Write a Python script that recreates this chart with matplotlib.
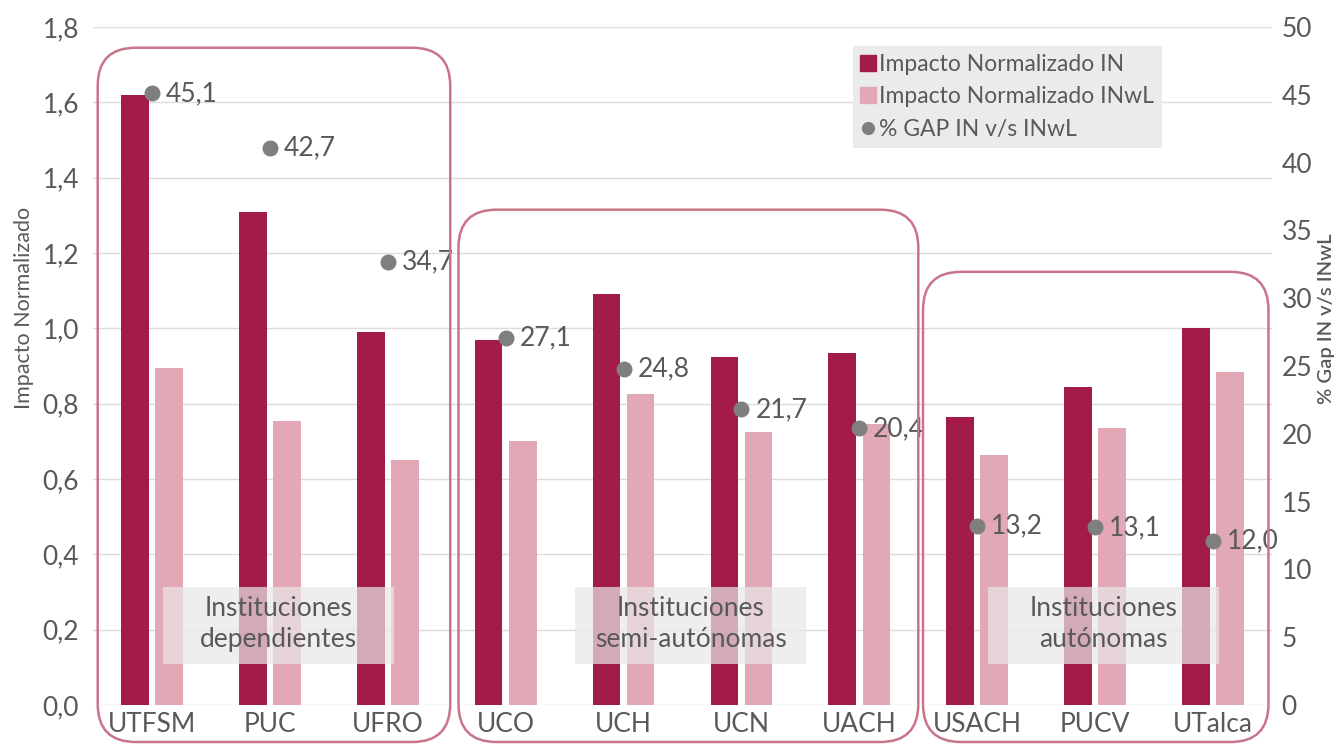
import matplotlib
matplotlib.use("Agg")
import matplotlib.pyplot as plt
from matplotlib.patches import FancyBboxPatch, Rectangle
from matplotlib.lines import Line2D
from matplotlib.transforms import IdentityTransform
import numpy as np

# ---- data ----
categories = ["UTFSM", "PUC", "UFRO", "UCO", "UCH", "UCN", "UACH", "USACH", "PUCV", "UTalca"]
impacto_in = [1.62, 1.31, 0.99, 0.97, 1.09, 0.925, 0.935, 0.765, 0.845, 1.00]
impacto_inwl = [0.895, 0.755, 0.65, 0.70, 0.825, 0.725, 0.745, 0.665, 0.735, 0.885]
# dot positions as drawn in the picture (right axis, %)
gap_pct = [45.1, 41.1, 32.7, 27.1, 24.8, 21.8, 20.4, 13.2, 13.1, 12.1]
gap_labels = ["45,1", "42,7", "34,7", "27,1", "24,8", "21,7", "20,4", "13,2", "13,1", "12,0"]
left_ticks = [0.0, 0.2, 0.4, 0.6, 0.8, 1.0, 1.2, 1.4, 1.6, 1.8]
left_ticklabels = ["0,0", "0,2", "0,4", "0,6", "0,8", "1,0", "1,2", "1,4", "1,6", "1,8"]
right_ticks = [0, 5, 10, 15, 20, 25, 30, 35, 40, 45, 50]
group_names = ["Instituciones\ndependientes", "Instituciones\nsemi-autónomas", "Instituciones\nautónomas"]
group_ranges = [(0, 2), (3, 6), (7, 9)]
group_tops = [1.745, 1.315, 1.15]
legend_labels = ["Impacto Normalizado IN", "Impacto Normalizado INwL", "% GAP IN v/s INwL"]

# ---- style ----
DARK = "#A21C47"
LIGHT = "#E3A8B5"
DOT = "#7F7F7F"
TXT = "#595959"
BOXEDGE = "#C97489"
FS = 19
plt.rcParams["font.family"] = ["Lato", "DejaVu Sans"]

W, H, DPI = 1341, 746, 100
fig = plt.figure(figsize=(W / DPI, H / DPI), dpi=DPI)
ax = fig.add_axes([93 / W, 1 - 705 / H, (1272 - 93) / W, (705 - 27) / H])
ax2 = ax.twinx()

x = np.arange(len(categories))
bw = 0.235
ax.bar(x - 0.145, impacto_in, width=bw, color=DARK, zorder=2)
ax.bar(x + 0.145, impacto_inwl, width=bw, color=LIGHT, zorder=2)
ax.set_xlim(-0.5, len(categories) - 0.5)
ax.set_ylim(0, 1.8)
ax.set_yticks(left_ticks)
ax.set_yticklabels(left_ticklabels)
ax.set_xticks(x)
ax.set_xticklabels(categories)
ax.grid(axis="y", color="#DCDCDC", lw=1.0, zorder=0)
ax.set_axisbelow(True)
for s in ax.spines.values():
    s.set_visible(False)
for s in ax2.spines.values():
    s.set_visible(False)
ax.tick_params(axis="both", length=0, labelsize=FS, labelcolor=TXT)
ax.tick_params(axis="y", pad=10)
ax.tick_params(axis="x", pad=5)
ax.set_ylabel("Impacto Normalizado", fontsize=15.5, color=TXT)
ax.yaxis.set_label_coords(-0.050, 0.585)

ax2.set_ylim(0, 50)
ax2.set_yticks(right_ticks)
ax2.tick_params(axis="y", length=0, labelsize=FS, labelcolor=TXT, pad=7)
ax2.set_ylabel("% Gap IN v/s INwL", fontsize=14.5, color=TXT, fontweight="semibold")
ax2.yaxis.set_label_coords(1.039, 0.57)

ax2.scatter(x, gap_pct, s=110, color=DOT, zorder=5)
for xi, yi, lab in zip(x, gap_pct, gap_labels):
    ax2.annotate(lab, (xi, yi), xytext=(10, 0), textcoords="offset points",
                 ha="left", va="center", fontsize=FS, color=TXT, zorder=6)

# group text boxes
for (i0, i1), name in zip(group_ranges, group_names):
    cx = (i0 + i1) / 2 + 0.07
    ax.add_patch(Rectangle((cx - 0.98, 0.11), 1.96, 0.203, facecolor="#E8E8E8",
                           alpha=0.7, edgecolor="none", zorder=3))
    ax.text(cx, 0.216, name, ha="center", va="center", fontsize=FS, color=TXT,
            linespacing=1.3, zorder=4)

# rounded group outlines (display coords)
fig.canvas.draw()
bottom_px = H - 742
left_off = [0.46, 0.40, 0.46]
right_off = [0.53, 0.50, 0.47]
for (i0, i1), top, lo, ro in zip(group_ranges, group_tops, left_off, right_off):
    x0, y0 = ax.transData.transform((i0 - lo, top))
    x1, _ = ax.transData.transform((i1 + ro, top))
    p = FancyBboxPatch((x0, bottom_px), x1 - x0, y0 - bottom_px,
                       boxstyle="round,pad=0,rounding_size=38",
                       transform=IdentityTransform(), facecolor="none",
                       edgecolor=BOXEDGE, lw=1.8, clip_on=False, zorder=10)
    fig.add_artist(p)

handles = [Line2D([], [], marker="s", ls="none", color=DARK, markersize=11),
           Line2D([], [], marker="s", ls="none", color=LIGHT, markersize=11),
           Line2D([], [], marker="o", ls="none", color=DOT, markersize=8.5)]
leg = fig.legend(handles, legend_labels, loc="upper left",
                 bbox_to_anchor=(853 / W, 1 - 46 / H), frameon=True, fancybox=False,
                 facecolor="#EBEBEB", edgecolor="none", framealpha=1.0,
                 fontsize=16.5, handlelength=0.6, handletextpad=0.2,
                 labelspacing=0.5, borderpad=0.35, borderaxespad=0)
for t in leg.get_texts():
    t.set_color(TXT)

fig.savefig("out.png", dpi=DPI)
